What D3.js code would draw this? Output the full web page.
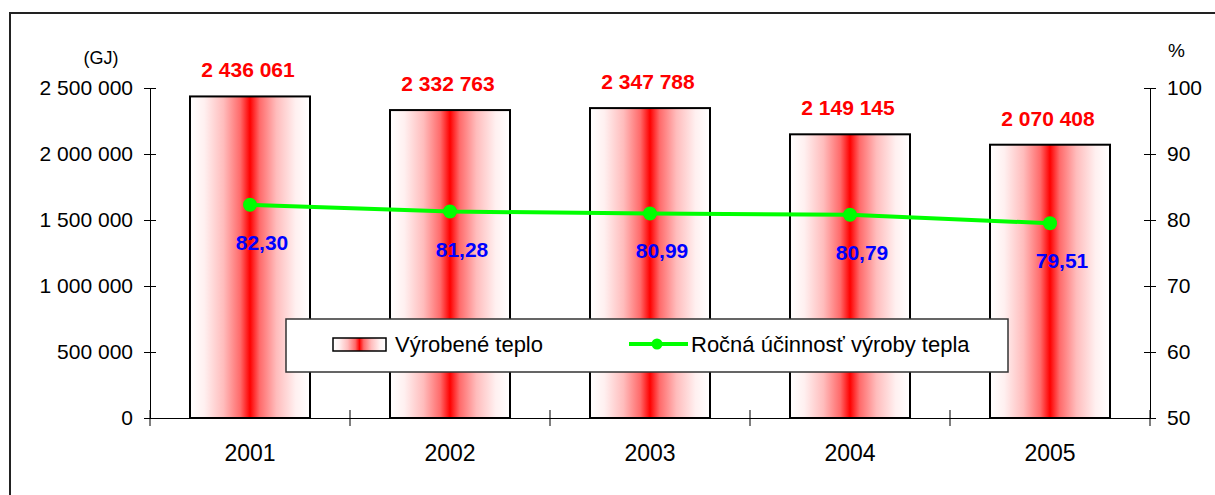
<!DOCTYPE html>
<html>
<head>
<meta charset="utf-8">
<script src="https://cdn.jsdelivr.net/npm/d3@7"></script>
<style>
  body { margin: 0; background: #fff; }
  svg text { font-family: "Liberation Sans", Arial, sans-serif; }
</style>
</head>
<body>
<svg id="chart" width="1215" height="495"></svg>
<script>
var years = ["2001", "2002", "2003", "2004", "2005"];
var heatValues = [2436061, 2332763, 2347788, 2149145, 2070408];
var efficiencyValues = [82.30, 81.28, 80.99, 80.79, 79.51];
var leftTicks = [0, 500000, 1000000, 1500000, 2000000, 2500000];
var rightTicks = [50, 60, 70, 80, 90, 100];
var seriesNames = ["Výrobené teplo", "Ročná účinnosť výroby tepla"];

var svgWidth = 1215, svgHeight = 495;
var plotLeft = 150, plotRight = 1150, plotTop = 88, plotBottom = 418;

var loc = d3.formatLocale({decimal: ",", thousands: " ", grouping: [3], currency: ["", ""]});
var fmtInt = loc.format(",d");
var fmtPct = loc.format(".2f");

var svg = d3.select("#chart");

// gradient for bars
var defs = svg.append("defs");
var grad = defs.append("linearGradient")
	.attr("id", "redGrad")
	.attr("x1", "0").attr("y1", "0").attr("x2", "1").attr("y2", "0");
[[0, "#ffffff"], [0.12, "#fff0f0"], [0.28, "#ffbcbc"], [0.42, "#ff6a6a"], [0.5, "#ff0000"], [0.58, "#ff6a6a"], [0.72, "#ffbcbc"], [0.88, "#fff0f0"], [1, "#ffffff"]]
	.forEach(function(s){ grad.append("stop").attr("offset", s[0]).attr("stop-color", s[1]); });

// outer frame
svg.append("rect")
	.attr("x", 10).attr("y", 13)
	.attr("width", 1220).attr("height", 500)
	.style("fill", "none")
	.style("stroke", "#222")
	.style("stroke-width", "2px");

var x = d3.scaleBand()
	.domain(years)
	.range([plotLeft, plotRight])
	.paddingInner(0.4)
	.paddingOuter(0.2);

var yLeft = d3.scaleLinear().domain([0, 2500000]).range([plotBottom, plotTop]);
var yRight = d3.scaleLinear().domain([50, 100]).range([plotBottom, plotTop]);

// bars
svg.append("g").selectAll("rect")
	.data(heatValues)
	.enter().append("rect")
	.attr("x", function(d, i){ return x(years[i]); })
	.attr("y", function(d){ return yLeft(d); })
	.attr("width", x.bandwidth())
	.attr("height", function(d){ return plotBottom - yLeft(d); })
	.style("fill", "url(#redGrad)")
	.style("stroke", "#000")
	.style("stroke-width", "2px");

// bar value labels
svg.append("g").selectAll("text")
	.data(heatValues)
	.enter().append("text")
	.attr("x", function(d, i){ return x(years[i]) + x.bandwidth() / 2 - 2; })
	.attr("y", function(d){ return yLeft(d) - 19; })
	.attr("text-anchor", "middle")
	.style("font-size", "21px")
	.style("font-weight", "bold")
	.style("fill", "#ff0000")
	.text(function(d){ return fmtInt(d); });

// left axis
var leftAxis = svg.append("g")
	.attr("transform", "translate(" + plotLeft + ",0)")
	.call(d3.axisLeft(yLeft).tickValues(leftTicks).tickSizeInner(6).tickSizeOuter(0).tickFormat(fmtInt));
leftAxis.selectAll(".tick line").attr("x1", 6).attr("x2", -6);
leftAxis.selectAll(".tick text").attr("x", -17).style("font-size", "21px").style("fill", "#000");

// right axis
var rightAxis = svg.append("g")
	.attr("transform", "translate(" + plotRight + ",0)")
	.call(d3.axisRight(yRight).tickValues(rightTicks).tickSizeInner(6).tickSizeOuter(0).tickFormat(d3.format("d")));
rightAxis.selectAll(".tick line").attr("x1", -6).attr("x2", 6);
rightAxis.selectAll(".tick text").attr("x", 17).style("font-size", "21px").style("fill", "#000");

// bottom axis: labels at band centers, ticks at band boundaries
var bottomAxis = svg.append("g")
	.attr("transform", "translate(0," + plotBottom + ")")
	.call(d3.axisBottom(x).tickSize(0).tickSizeOuter(0));
bottomAxis.selectAll(".tick text").attr("y", 27).style("font-size", "23px").style("fill", "#000");
var gap = (x.step() - x.bandwidth()) / 2;
var boundaries = years.map(function(d){ return x(d) - gap; }).concat([plotRight]);
bottomAxis.selectAll("line.sep")
	.data(boundaries)
	.enter().append("line")
	.attr("class", "sep")
	.attr("x1", function(d){ return d; }).attr("x2", function(d){ return d; })
	.attr("y1", -8).attr("y2", 8)
	.style("stroke", "#000");

// axis unit labels
svg.append("text")
	.attr("x", 101).attr("y", 64)
	.attr("text-anchor", "middle")
	.style("font-size", "18px")
	.text("(GJ)");
svg.append("text")
	.attr("x", 1168).attr("y", 57)
	.style("font-size", "19px")
	.text("%");

// legend
var legend = svg.append("g");
legend.append("rect")
	.attr("x", 286).attr("y", 319)
	.attr("width", 722).attr("height", 53)
	.style("fill", "#fff")
	.style("stroke", "#333")
	.style("stroke-width", "1.5px");
legend.append("rect")
	.attr("x", 333).attr("y", 338)
	.attr("width", 53).attr("height", 13)
	.style("fill", "url(#redGrad)")
	.style("stroke", "#000")
	.style("stroke-width", "1.5px");
legend.append("text")
	.attr("x", 395).attr("y", 352)
	.style("font-size", "22px")
	.text(seriesNames[0]);
legend.append("line")
	.attr("x1", 629).attr("x2", 688)
	.attr("y1", 344).attr("y2", 344)
	.style("stroke", "#00ff00")
	.style("stroke-width", "4px");
legend.append("circle")
	.attr("cx", 657).attr("cy", 344).attr("r", 5.5)
	.style("fill", "#00ff00");
legend.append("text")
	.attr("x", 691).attr("y", 352)
	.style("font-size", "22px")
	.text(seriesNames[1]);

// efficiency line
var cx = function(i){ return x(years[i]) + x.bandwidth() / 2; };
var line = d3.line()
	.x(function(d, i){ return cx(i); })
	.y(function(d){ return yRight(d); });

svg.append("path")
	.datum(efficiencyValues)
	.attr("d", line)
	.style("fill", "none")
	.style("stroke", "#00ff00")
	.style("stroke-width", "4px");

svg.append("g").selectAll("circle")
	.data(efficiencyValues)
	.enter().append("circle")
	.attr("cx", function(d, i){ return cx(i); })
	.attr("cy", function(d){ return yRight(d); })
	.attr("r", 7)
	.style("fill", "#00ff00");

svg.append("g").selectAll("text")
	.data(efficiencyValues)
	.enter().append("text")
	.attr("x", function(d, i){ return cx(i) + 12; })
	.attr("y", function(d){ return yRight(d) + 45; })
	.attr("text-anchor", "middle")
	.style("font-size", "21px")
	.style("font-weight", "bold")
	.style("fill", "#0000ff")
	.text(function(d){ return fmtPct(d); });
</script>
</body>
</html>
